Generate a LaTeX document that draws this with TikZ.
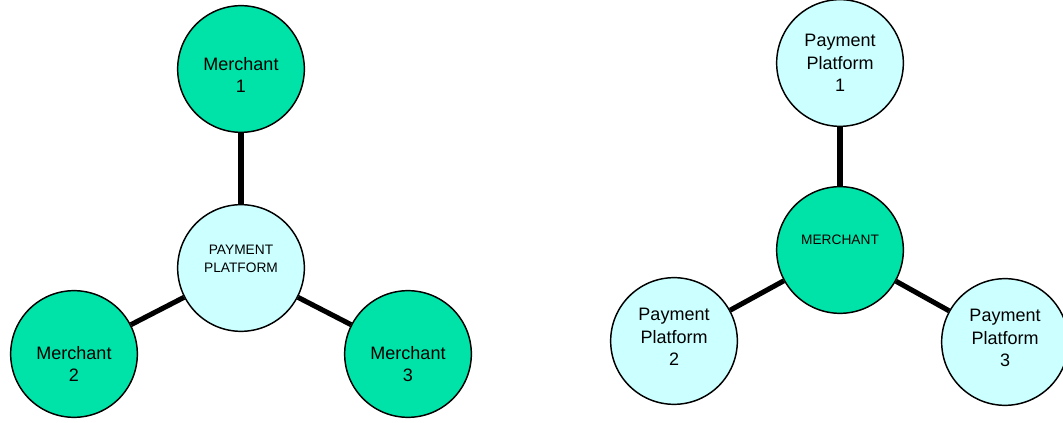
\documentclass[tikz,border=0pt]{standalone}
\usepackage{fontspec}
\setmainfont{Liberation Sans}
\usepackage{xcolor}
\usetikzlibrary{positioning}

\definecolor{mgreen}{RGB}{0,227,168}
\definecolor{pcyan}{RGB}{204,255,255}

\begin{document}
\begin{tikzpicture}[
    x=0.75pt,
    y=-0.75pt,
    disc/.style={
        circle,
        draw,
        line width=1.1pt,
        minimum size=95pt,
        inner sep=0pt
    },
    merchant/.style={
        disc,
        fill=mgreen
    },
    platform/.style={
        disc,
        fill=pcyan
    },
    big/.style={
        align=center,
        font=\fontsize{13.5}{17}\selectfont
    },
    small/.style={
        align=center,
        font=\fontsize{10.3}{13.5}\selectfont
    },
    link/.style={
        draw,
        line width=3.8pt
    }
]
\useasboundingbox (0,0) rectangle (1063,423);

% One platform, many merchants
\node [merchant, label={[big, yshift=-4.5pt]center:Merchant\\1}] (m1) at (241,69) {};
\node [platform, label={[small, yshift=6.5pt]center:PAYMENT\\PLATFORM}] (pp) at (241,268) {};
\node [merchant, label={[big, yshift=-7.5pt]center:Merchant\\2}] (m2) at (74,354) {};
\node [merchant, label={[big, yshift=-7.5pt]center:Merchant\\3}] (m3) at (408,354) {};

% One merchant, many platforms
\node [platform, label={[big]center:Payment\\Platform\\1}] (pp1) at (840,63) {};
\node [merchant, label={[small, yshift=7.5pt]center:MERCHANT}] (mer) at (840,250) {};
\node [platform, label={[big, yshift=3pt]center:Payment\\Platform\\2}] (pp2) at (674,341) {};
\node [platform, label={[big, yshift=3pt]center:Payment\\Platform\\3}] (pp3) at (1005,342) {};

% Edges
\path [link] (pp) -- (m1);
\path [link] (pp) -- (m2);
\path [link] (pp) -- (m3);
\path [link] (mer) -- (pp1);
\path [link] (mer) -- (pp2);
\path [link] (mer) -- (pp3);

\end{tikzpicture}
\end{document}
